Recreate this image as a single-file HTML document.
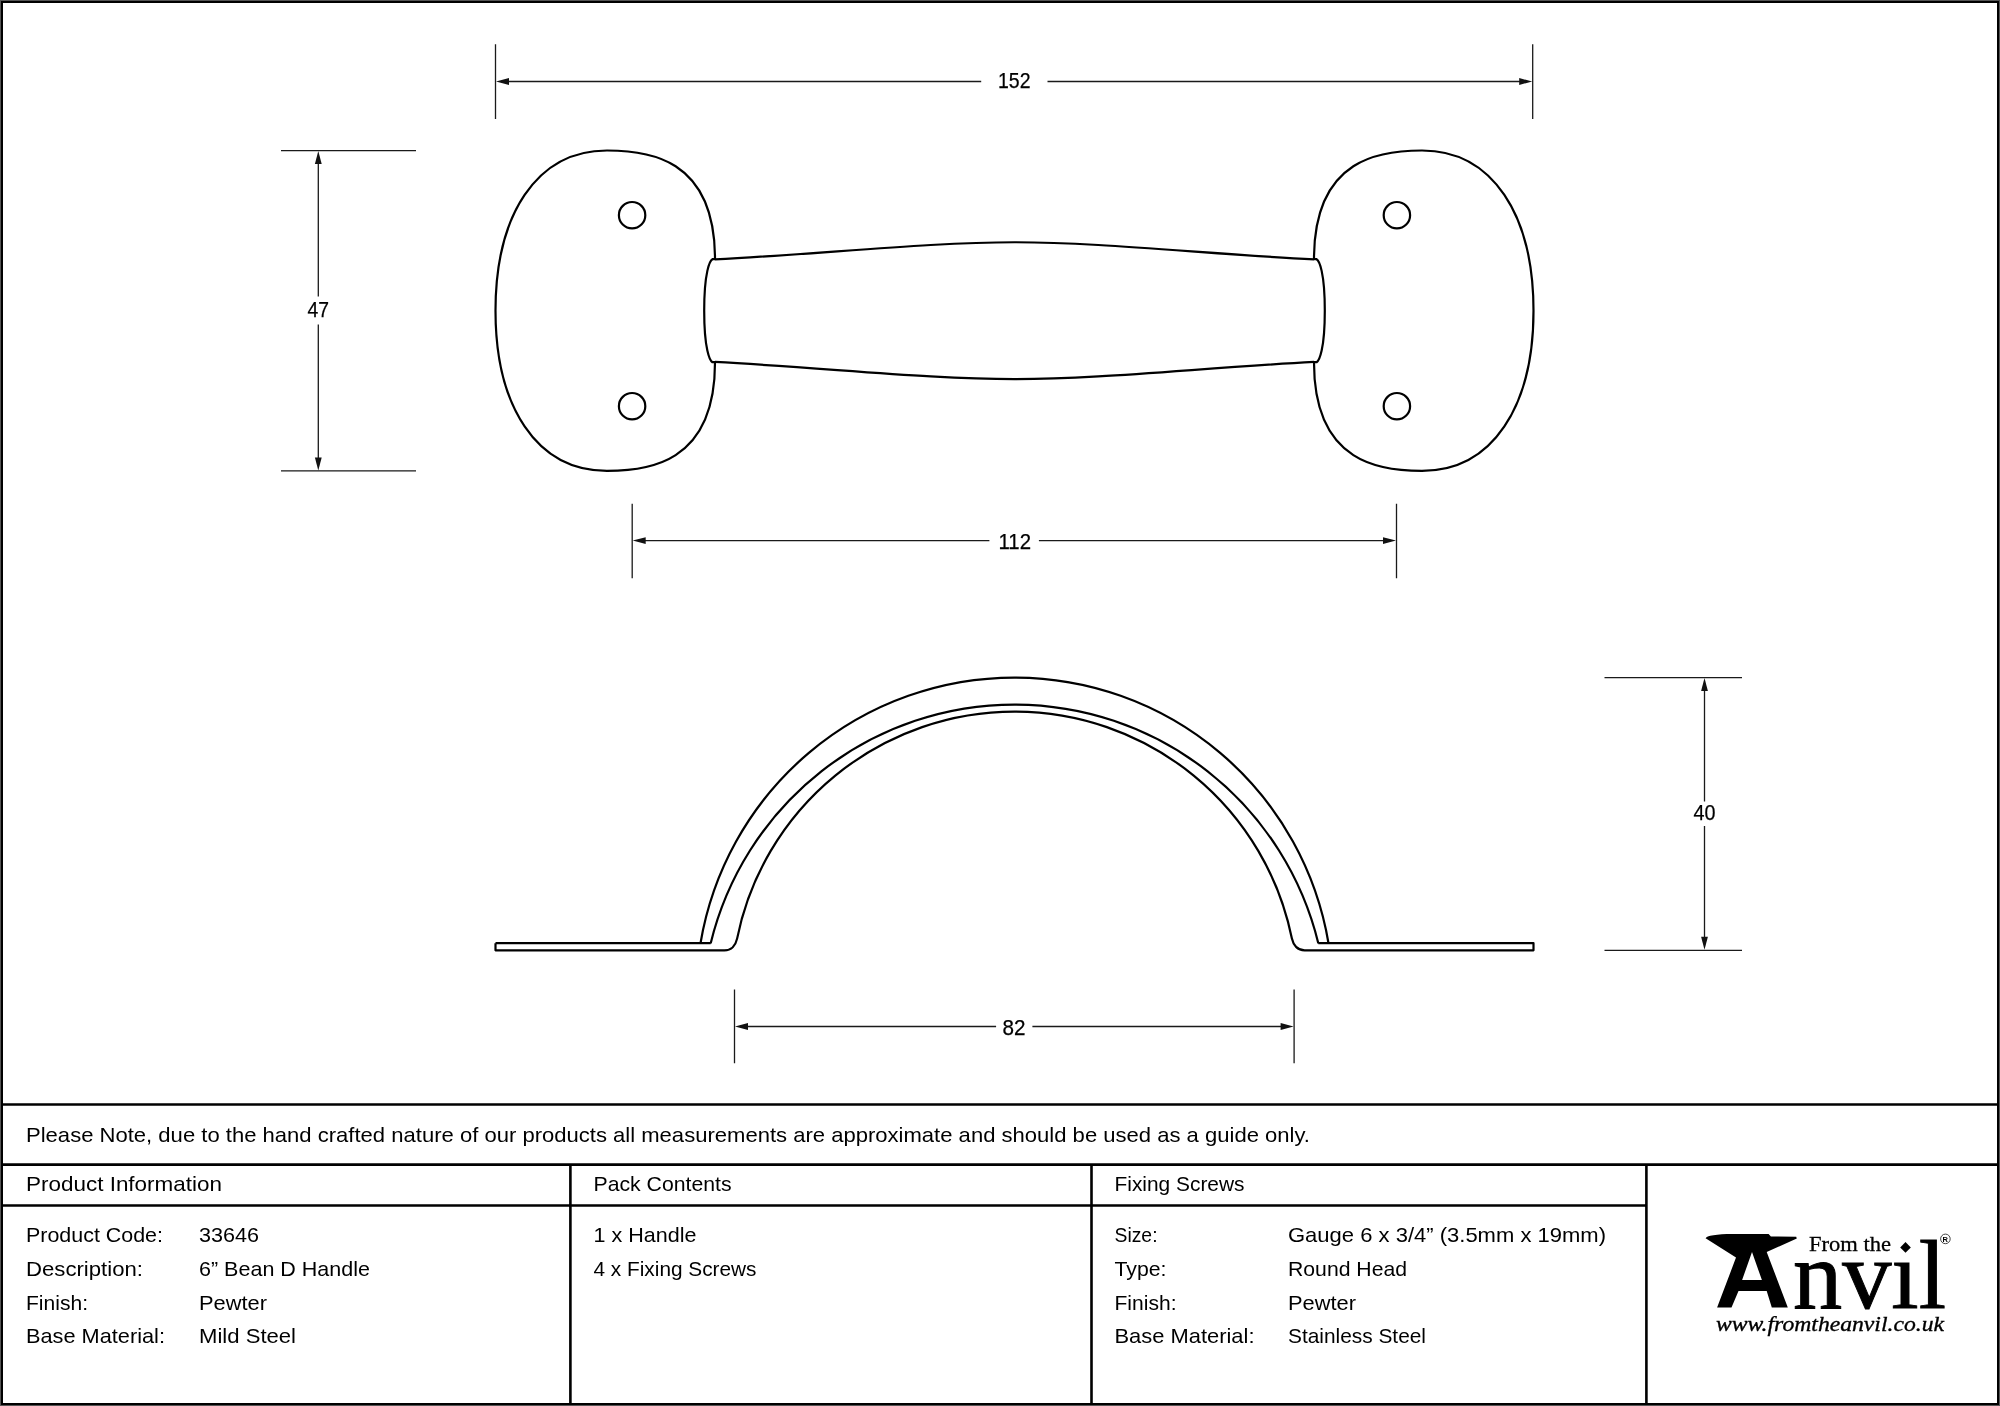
<!DOCTYPE html>
<html><head><meta charset="utf-8"><style>
html,body{margin:0;padding:0;background:#fff;width:2000px;height:1406px;overflow:hidden}
svg{display:block;will-change:transform}
text{font-family:"Liberation Sans",sans-serif;fill:#000}
.serif{font-family:"Liberation Serif",serif}
</style></head><body>
<svg width="2000" height="1406" viewBox="0 0 2000 1406">
<rect width="2000" height="1406" fill="#fff"/>
<path stroke="#000" stroke-width="2.2" fill="none" stroke-linejoin="round" d="M715 258.9 C715 156.4 646 150.5 607 150.5 C536 150.5 495.5 215.7 495.5 310.7 C495.5 405.7 536 470.9 607 470.9 C646 470.9 715 465 715 362.5 M1314 258.9 C1314 156.4 1383 150.5 1422 150.5 C1493 150.5 1533.5 215.7 1533.5 310.7 C1533.5 405.7 1493 470.9 1422 470.9 C1383 470.9 1314 465 1314 362.5"/>
<path stroke="#000" stroke-width="2.2" fill="none" stroke-linejoin="round" d="M715 259.2 L712.4 259.2 C709.87 260.65 704.2 271.72 704.2 310.7 C704.2 349.68 709.87 360.75 712.4 362.2 L715 362.2 M1314 259.2 L1316.6 259.2 C1319.13 260.65 1324.8 271.72 1324.8 310.7 C1324.8 349.68 1319.13 360.75 1316.6 362.2 L1314 362.2"/>
<path stroke="#000" stroke-width="2.2" fill="none" stroke-linejoin="round" d="M714.9 259.45 C827.8 253.42 930.8 242.24 1014.5 242.24 C1098.2 242.24 1201.2 253.42 1314.1 259.45 M714.9 361.95 C827.8 367.98 930.8 379.16 1014.5 379.16 C1098.2 379.16 1201.2 367.98 1314.1 361.95"/>
<circle cx="632.1" cy="215.2" r="13.2" stroke="#000" stroke-width="2.2" fill="none" stroke-linejoin="round"/>
<circle cx="632.1" cy="406.2" r="13.2" stroke="#000" stroke-width="2.2" fill="none" stroke-linejoin="round"/>
<circle cx="1396.9" cy="215.2" r="13.2" stroke="#000" stroke-width="2.2" fill="none" stroke-linejoin="round"/>
<circle cx="1396.9" cy="406.2" r="13.2" stroke="#000" stroke-width="2.2" fill="none" stroke-linejoin="round"/>
<path stroke="#000" stroke-width="2.2" fill="none" stroke-linejoin="round" d="M495.5 943.2 H710.7 M700.5,943.2 A318.4,318.4 0 0 1 1328.5 943.2 M1318.3 943.2 H1533.5 V950.3 H1304.6 C1297.5 950.3 1293.3 945 1291.9 938.6 A283,283 0 0 0 737.1 938.6 C735.7,945 731.5,950.3 724.4,950.3 H495.5 V943.2 M710.7 943.2 A312.7,312.7 0 0 1 1318.3 943.2"/>
<path stroke="#1a1a1a" stroke-width="1.3" fill="none" d="M495.5 44.2 V118.9 M1532.7 44.2 V118.9 M501.5 81.5 H981.2 M1047.5 81.5 H1526.7"/>
<g fill="#111"><path d="M496 81.5 L509 78.1 L509 84.9Z"/><path d="M1532.2 81.5 L1519.2 84.9 L1519.2 78.1Z"/></g>
<text x="998" y="88" font-size="22.3" textLength="32.5" lengthAdjust="spacingAndGlyphs" stroke="#000" stroke-width="0.25">152</text>
<path stroke="#1a1a1a" stroke-width="1.3" fill="none" d="M632.2 503.7 V578.2 M1396.5 503.7 V578.2 M638.2 540.6 H989.4 M1038.9 540.6 H1390.5"/>
<g fill="#111"><path d="M632.7 540.6 L645.7 537.2 L645.7 544Z"/><path d="M1396 540.6 L1383 544 L1383 537.2Z"/></g>
<text x="998.5" y="548.8" font-size="22.3" textLength="32.5" lengthAdjust="spacingAndGlyphs" stroke="#000" stroke-width="0.25">112</text>
<path stroke="#1a1a1a" stroke-width="1.3" fill="none" d="M734.5 989.6 V1063.3 M1294.1 989.6 V1063.3 M740.5 1026.5 H996.1 M1032.4 1026.5 H1288.1"/>
<g fill="#111"><path d="M735 1026.5 L748 1023.1 L748 1029.9Z"/><path d="M1293.6 1026.5 L1280.6 1029.9 L1280.6 1023.1Z"/></g>
<text x="1002.5" y="1034.7" font-size="22.3" textLength="23" lengthAdjust="spacingAndGlyphs" stroke="#000" stroke-width="0.25">82</text>
<path stroke="#1a1a1a" stroke-width="1.3" fill="none" d="M281 150.6 H416 M281 470.9 H416 M318.3 156.6 V296.4 M318.3 324.5 V464.9"/>
<g fill="#111"><path d="M318.3 151.1 L321.7 164.1 L314.9 164.1Z"/><path d="M318.3 470.4 L314.9 457.4 L321.7 457.4Z"/></g>
<text x="307.5" y="317" font-size="22.3" textLength="21.5" lengthAdjust="spacingAndGlyphs" stroke="#000" stroke-width="0.25">47</text>
<path stroke="#1a1a1a" stroke-width="1.3" fill="none" d="M1604.5 677.6 H1742 M1604.5 950.3 H1742 M1704.5 683.6 V801.6 M1704.5 826 V944.3"/>
<g fill="#111"><path d="M1704.5 678.1 L1707.9 691.1 L1701.1 691.1Z"/><path d="M1704.5 949.8 L1701.1 936.8 L1707.9 936.8Z"/></g>
<text x="1693.5" y="820.1" font-size="22.3" textLength="22" lengthAdjust="spacingAndGlyphs" stroke="#000" stroke-width="0.25">40</text>
<path stroke="#000" stroke-width="2.6" fill="none" d="M0,1104.5 H2000 M0,1164.6 H2000 M0,1205.5 H1646.4 M570.4,1164.6 V1406 M1091.5,1164.6 V1406 M1646.4,1164.6 V1406"/>
<rect x="0.5" y="0.5" width="1999" height="1405" fill="none" stroke="#555" stroke-width="1"/>
<rect x="2" y="2" width="1996" height="1402" fill="none" stroke="#000" stroke-width="2"/>
<text x="26" y="1142.4" font-size="21" textLength="1284" lengthAdjust="spacingAndGlyphs">Please Note, due to the hand crafted nature of our products all measurements are approximate and should be used as a guide only.</text>
<text x="26" y="1191" font-size="21" textLength="196" lengthAdjust="spacingAndGlyphs">Product Information</text>
<text x="593.5" y="1191" font-size="21" textLength="138" lengthAdjust="spacingAndGlyphs">Pack Contents</text>
<text x="1114.5" y="1191" font-size="21" textLength="130" lengthAdjust="spacingAndGlyphs">Fixing Screws</text>
<text x="26" y="1242.4" font-size="21" textLength="137" lengthAdjust="spacingAndGlyphs">Product Code:</text>
<text x="199" y="1242.4" font-size="21" textLength="60" lengthAdjust="spacingAndGlyphs">33646</text>
<text x="26" y="1276.4" font-size="21" textLength="117" lengthAdjust="spacingAndGlyphs">Description:</text>
<text x="199" y="1276.4" font-size="21" textLength="171" lengthAdjust="spacingAndGlyphs">6” Bean D Handle</text>
<text x="26" y="1309.6" font-size="21" textLength="62" lengthAdjust="spacingAndGlyphs">Finish:</text>
<text x="199" y="1309.6" font-size="21" textLength="68" lengthAdjust="spacingAndGlyphs">Pewter</text>
<text x="26" y="1343.4" font-size="21" textLength="139" lengthAdjust="spacingAndGlyphs">Base Material:</text>
<text x="199" y="1343.4" font-size="21" textLength="97" lengthAdjust="spacingAndGlyphs">Mild Steel</text>
<text x="593.5" y="1241.5" font-size="21" textLength="103" lengthAdjust="spacingAndGlyphs">1 x Handle</text>
<text x="593.5" y="1275.5" font-size="21" textLength="163" lengthAdjust="spacingAndGlyphs">4 x Fixing Screws</text>
<text x="1114.5" y="1242.4" font-size="21" textLength="43" lengthAdjust="spacingAndGlyphs">Size:</text>
<text x="1288" y="1242.4" font-size="21" textLength="318" lengthAdjust="spacingAndGlyphs">Gauge 6 x 3/4” (3.5mm x 19mm)</text>
<text x="1114.5" y="1276.4" font-size="21" textLength="52" lengthAdjust="spacingAndGlyphs">Type:</text>
<text x="1288" y="1276.4" font-size="21" textLength="119" lengthAdjust="spacingAndGlyphs">Round Head</text>
<text x="1114.5" y="1309.6" font-size="21" textLength="62" lengthAdjust="spacingAndGlyphs">Finish:</text>
<text x="1288" y="1309.6" font-size="21" textLength="68" lengthAdjust="spacingAndGlyphs">Pewter</text>
<text x="1114.5" y="1343.4" font-size="21" textLength="140" lengthAdjust="spacingAndGlyphs">Base Material:</text>
<text x="1288" y="1343.4" font-size="21" textLength="138" lengthAdjust="spacingAndGlyphs">Stainless Steel</text>
<g fill="#000">
<path d="M1705.6,1238.2 C1706,1235.6 1718,1233.8 1733.4,1233.9 L1768.6,1234 L1770.9,1236.5 L1796.2,1236.8 L1796.8,1238.6 L1766.7,1251.9 L1787.8,1307.6 L1771.8,1307.6 L1766.7,1291 L1738.5,1291 L1731.5,1307.6 L1717.1,1307.6 L1736,1257.6 Z M1752,1251.9 L1742.1,1280.1 L1761.9,1280.1 Z" fill-rule="evenodd"/>
<path d="M1905.5,1242.1 L1910.8,1247.4 L1905.5,1252.7 L1900.2,1247.4 Z"/>
</g>
<text class="serif" x="1809" y="1251.4" font-size="22" textLength="82" lengthAdjust="spacingAndGlyphs" stroke="#000" stroke-width="0.3" style="font-family:'Liberation Serif',serif">From the</text>
<text class="serif" x="1793" y="1308" font-size="98" textLength="153" lengthAdjust="spacingAndGlyphs" stroke="#000" stroke-width="1" style="font-family:'Liberation Serif',serif">nvıl</text>
<circle cx="1945.4" cy="1238.9" r="4.8" fill="none" stroke="#333" stroke-width="0.9"/>
<text x="1942.6" y="1241.8" font-size="7.5" style="font-family:'Liberation Sans',sans-serif;font-weight:bold">R</text>
<text class="serif" x="1716" y="1330.6" font-size="22" font-style="italic" textLength="228" lengthAdjust="spacingAndGlyphs" stroke="#000" stroke-width="0.35" style="font-family:'Liberation Serif',serif">www.fromtheanvil.co.uk</text>
</svg></body></html>
